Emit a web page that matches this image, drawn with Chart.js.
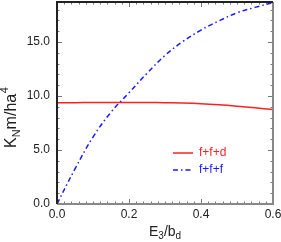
<!DOCTYPE html>
<html>
<head>
<meta charset="utf-8">
<script src="https://cdn.jsdelivr.net/npm/chart.js@4.4.1/dist/chart.umd.min.js"></script>
<style>
  html, body { margin: 0; padding: 0; background: #fff; }
  #wrap { width: 281px; height: 242px; }
</style>
</head>
<body>
<div id="wrap"><canvas id="kn_chart" width="281" height="242"></canvas></div>
<script>
// values
var xValues = [0, 0.05, 0.1, 0.15, 0.2, 0.25, 0.3, 0.35, 0.4, 0.45, 0.5, 0.55, 0.6];
var ffdValues = [9.37, 9.38, 9.39, 9.40, 9.40, 9.40, 9.38, 9.35, 9.29, 9.19, 9.06, 8.91, 8.74];
var fffValues = [0, 3.25, 6.2, 8.5, 10.3, 12.1, 13.75, 15.05, 16.1, 16.95, 17.7, 18.2, 18.65];
var xTicks = [0, 0.2, 0.4, 0.6];
var yTicks = [0, 5, 10, 15];
var seriesLabels = ['f+f+d', 'f+f+f'];

function toPoints(ys) {
    return xValues.map(function (x, i) { return { x: x, y: ys[i] }; });
}

var FONT = '"Liberation Sans", Arial, sans-serif';

// frame, inward ticks, titles and legend
var framePlugin = {
    id: 'frame',
    afterDraw: function (chart) {
        var ctx = chart.ctx;
        var a = chart.chartArea;
        var xs = chart.scales.x, ys = chart.scales.y;
        ctx.save();

        // minor + major ticks on all four sides
        ctx.strokeStyle = '#777';
        ctx.lineWidth = 1;
        ctx.beginPath();
        for (var i = 0; i <= 30; i++) {
            var v = i * 0.02;
            var px = Math.round(xs.getPixelForValue(v)) + 0.5;
            var len = (i % 10 === 0) ? 5 : 2.5;
            ctx.moveTo(px, a.bottom); ctx.lineTo(px, a.bottom - len);
            ctx.moveTo(px, a.top); ctx.lineTo(px, a.top + len);
        }
        for (var j = 0; j <= 18; j++) {
            var py = Math.round(ys.getPixelForValue(j)) + 0.5;
            var l2 = (j % 5 === 0) ? 5 : 2.5;
            ctx.moveTo(a.left, py); ctx.lineTo(a.left + l2, py);
            ctx.moveTo(a.right, py); ctx.lineTo(a.right - l2, py);
        }
        ctx.stroke();

        // borders: dark top/left, grey bottom/right
        ctx.lineWidth = 2;
        ctx.strokeStyle = '#888';
        ctx.beginPath();
        ctx.moveTo(a.left, a.bottom); ctx.lineTo(a.right, a.bottom); ctx.lineTo(a.right, a.top);
        ctx.stroke();
        ctx.strokeStyle = '#222';
        ctx.beginPath();
        ctx.moveTo(a.left, a.bottom); ctx.lineTo(a.left, a.top); ctx.lineTo(a.right, a.top);
        ctx.stroke();

        // x title E3/bd
        ctx.fillStyle = '#222';
        ctx.textBaseline = 'alphabetic';
        var cx = (a.left + a.right) / 2 - 16;
        var by = 236;
        ctx.font = '14px ' + FONT;
        ctx.fillText('E', cx, by); cx += ctx.measureText('E').width;
        ctx.font = '10px ' + FONT;
        ctx.fillText('3', cx, by + 3); cx += ctx.measureText('3').width;
        ctx.font = '14px ' + FONT;
        ctx.fillText('/b', cx, by); cx += ctx.measureText('/b').width;
        ctx.font = '10px ' + FONT;
        ctx.fillText('d', cx, by + 3);

        // y title KN m/ha4
        ctx.save();
        ctx.translate(16, 148);
        ctx.rotate(-Math.PI / 2);
        var tx = 0;
        ctx.font = '16px ' + FONT;
        ctx.fillText('K', tx, 0); tx += ctx.measureText('K').width;
        ctx.font = '11px ' + FONT;
        ctx.fillText('N', tx, 4); tx += ctx.measureText('N').width;
        ctx.font = '16px ' + FONT;
        ctx.fillText('m/ha', tx, 0); tx += ctx.measureText('m/ha').width;
        ctx.font = '11px ' + FONT;
        ctx.fillText('4', tx + 0.5, -8);
        ctx.restore();

        // legend
        var ds = chart.data.datasets;
        var lx = 173, ly = 153;
        ctx.font = '12px ' + FONT;
        ctx.textBaseline = 'middle';
        ds.forEach(function (d, k) {
            var yy = ly + k * 17;
            ctx.strokeStyle = d.borderColor;
            ctx.lineWidth = d.borderWidth;
            ctx.setLineDash(d.borderDash || []);
            ctx.beginPath();
            ctx.moveTo(lx, yy); ctx.lineTo(lx + 20, yy);
            ctx.stroke();
            ctx.setLineDash([]);
            ctx.fillStyle = d.borderColor;
            ctx.fillText(d.label, lx + 26, yy);
        });
        ctx.restore();
    }
};

var ctx1 = document.getElementById('kn_chart').getContext('2d');
var knChart = new Chart(ctx1, {
    type: 'line',
    data: {
        datasets: [
            {
                label: seriesLabels[0],
                data: toPoints(ffdValues),
                borderColor: '#ff2020',
                borderWidth: 1.5,
                pointRadius: 0,
                tension: 0.4,
                fill: false
            },
            {
                label: seriesLabels[1],
                data: toPoints(fffValues),
                borderColor: '#1a1aff',
                borderWidth: 1.5,
                borderDash: [5, 3, 1.5, 3],
                pointRadius: 0,
                tension: 0.4,
                fill: false
            }
        ]
    },
    options: {
        responsive: false,
        animation: false,
        layout: { padding: { top: 2, right: 8, left: 0, bottom: 0 } },
        plugins: {
            legend: { display: false },
            tooltip: { enabled: false }
        },
        scales: {
            x: {
                type: 'linear',
                min: 0,
                max: 0.6,
                grid: { display: false, drawTicks: false },
                border: { display: false },
                afterBuildTicks: function (s) {
                    s.ticks = xTicks.map(function (v) { return { value: v }; });
                },
                afterFit: function (s) {
                    s.height = 38;
                    s.paddingLeft = 0; s.paddingRight = 0;
                },
                ticks: {
                    padding: 3,
                    maxRotation: 0,
                    color: '#222',
                    font: { family: FONT, size: 12 },
                    callback: function (v) { return Number(v).toFixed(1); }
                }
            },
            y: {
                min: 0,
                max: 18.7,
                grid: { display: false, drawTicks: false },
                border: { display: false },
                afterBuildTicks: function (s) {
                    s.ticks = yTicks.map(function (v) { return { value: v }; });
                },
                afterFit: function (s) {
                    s.width = 57;
                    s.paddingTop = 0; s.paddingBottom = 0;
                },
                ticks: {
                    padding: 7,
                    color: '#222',
                    font: { family: FONT, size: 12 },
                    callback: function (v) { return Number(v).toFixed(1); }
                }
            }
        }
    },
    plugins: [framePlugin]
});
</script>
</body>
</html>
